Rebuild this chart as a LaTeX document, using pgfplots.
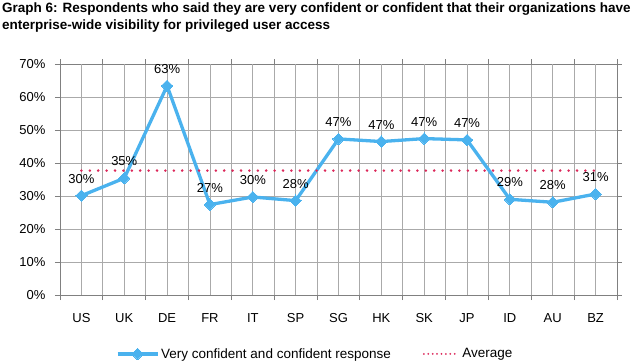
\documentclass[border=0pt]{standalone}
\usepackage{pgfplots}
\pgfplotsset{compat=1.18}
\usepackage{fontspec}
\setmainfont{Liberation Sans}
\definecolor{lineblue}{RGB}{74,178,238}
\definecolor{avgred}{RGB}{220,40,90}
\definecolor{gridgray}{RGB}{170,170,170}
\pgfplotsset{
  blueleg/.style={legend image code/.code={\draw[mark repeat=2,mark phase=2,##1] plot coordinates {(0pt,0pt) (20pt,0pt) (40pt,0pt)};}},
  redleg/.style={legend image code/.code={\draw[##1, line width=2pt, dash pattern=on 0pt off 4.4pt] (0pt,0pt) -- (31pt,0pt); \path (35pt,0pt);}},
}
\begin{document}
\begin{tikzpicture}
\path[use as bounding box] (-60pt,-67pt) rectangle (573pt,295pt);
\begin{axis}[
  scale only axis,
  width=557pt, height=231pt,
  xmin=-0.5, xmax=12.5, ymin=0, ymax=70,
  xtick={-0.5,0.5,...,12.5},
  xticklabels={},
  extra x ticks={0,...,12},
  extra x tick labels={US,UK,DE,FR,IT,SP,SG,HK,SK,JP,ID,AU,BZ},
  extra x tick style={grid=major, major tick length=0pt},
  ytick={0,10,...,70},
  yticklabels={0\%,10\%,20\%,30\%,40\%,50\%,60\%,70\%},
  grid=major,
  major grid style={draw=gridgray, line width=0.9pt},
  axis line style={draw=gray, line width=0.9pt},
  tick style={draw=gray, line width=0.9pt},
  major tick length=5pt,
  tick align=outside,
  xticklabel style={font=\fontsize{13}{15}\selectfont, yshift=-15pt},
  yticklabel style={font=\fontsize{13}{15}\selectfont, xshift=-6pt},
  clip=false,
  legend style={at={(0.458,-0.255)}, anchor=center, draw=none, fill=none,
    font=\fontsize{13.5}{15}\selectfont, legend columns=2,
    /tikz/every even column/.append style={column sep=30pt}},
  legend cell align=left,
]
\addplot[color=lineblue, line width=3.3pt, mark=square*, mark size=4pt,
  mark options={fill=lineblue, draw=lineblue, line width=0pt, rotate=45},
  nodes near coords, point meta=explicit symbolic,
  every node near coord/.append style={font=\fontsize{13}{15}\selectfont, text=black, yshift=9pt},
  blueleg]
  coordinates {
  (0,30.1)[30\%] (1,35.4)[35\%] (2,63.4)[63\%] (3,27.4)[27\%] (4,29.7)[30\%]
  (5,28.6)[28\%] (6,47.3)[47\%] (7,46.5)[47\%] (8,47.4)[47\%] (9,47.0)[47\%]
  (10,29.0)[29\%] (11,28.1)[28\%] (12,30.6)[31\%]
  };
\addlegendentry{Very confident and confident response}
\addplot[color=avgred, line width=2.8pt, line cap=round, dash pattern=on 0pt off 8.4pt, redleg]
  coordinates {(0,37.7) (12,37.7)};
\addlegendentry{Average}
\node[anchor=north west, align=left, inner sep=0pt, font=\bfseries\fontsize{13.5}{17}\selectfont]
  at ([xshift=-58pt,yshift=61pt]rel axis cs:0,1)
  {Graph 6: Respondents who said they are very confident or confident that their organizations have\\enterprise-wide visibility for privileged user access};
\end{axis}
\end{tikzpicture}
\end{document}
